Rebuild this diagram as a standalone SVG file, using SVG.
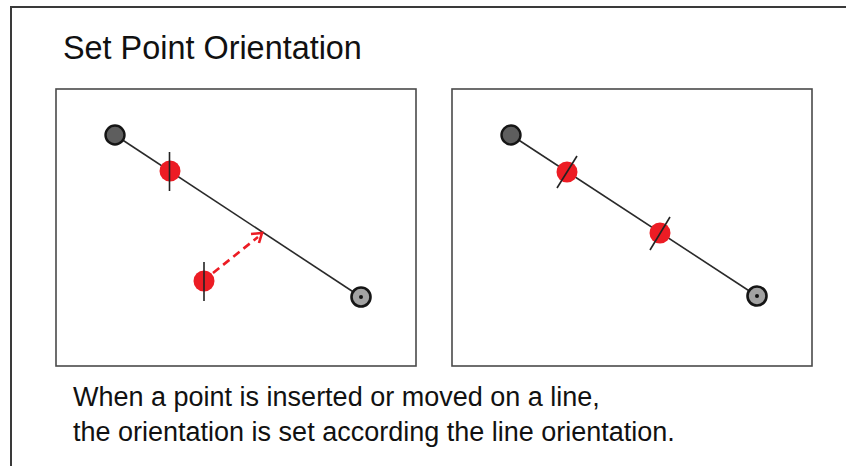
<svg xmlns="http://www.w3.org/2000/svg" width="846" height="466" viewBox="0 0 846 466">
<defs>
<style>
.frame{fill:none;stroke:#3a3a3a;stroke-width:2}
.box{fill:#fff;stroke:#4a4a4a;stroke-width:1.6}
.seg{stroke:#2a2a2a;stroke-width:1.6;fill:none}
.endA{fill:#5e5e5e;stroke:#151515;stroke-width:2.4}
.endB{fill:#a2a2a2;stroke:#151515;stroke-width:2.6}
.dot{fill:#111}
.red{fill:#ec1c24}
.tick{stroke:#222;stroke-width:1.6}
.txt{font-family:"Liberation Sans",Arial,sans-serif;fill:#111}
.arrow{stroke:#ec1c24;stroke-width:2.6;fill:none}
</style>
</defs>
<rect width="846" height="466" fill="#fff"/>
<path class="frame" d="M11,470 V7 H850"/>
<text class="txt" x="63" y="59" font-size="32.4">Set Point Orientation</text>

<g id="panel-left">
<rect class="box" x="56" y="89" width="360" height="277"/>
</g>
<g id="panel-right">
<rect class="box" x="452" y="89" width="360" height="277"/>
</g>

<g id="connectors">
<line class="seg" x1="115" y1="135" x2="361" y2="297"/>
<line class="seg" x1="511" y1="135" x2="757" y2="296"/>
<path class="arrow" d="M213,273 L258,237" stroke-dasharray="8,5"/>
<path class="arrow" d="M251,234 L262,233 L259,243"/>
</g>

<g id="left-start"><circle class="endA" cx="115" cy="135" r="9.5"/></g>
<g id="left-end"><circle class="endB" cx="361" cy="297" r="9.5"/><circle class="dot" cx="361" cy="297" r="2"/></g>
<g id="left-point-on-line"><circle class="red" cx="170" cy="171" r="10.5"/><line class="tick" x1="169.5" y1="152" x2="169.5" y2="191"/></g>
<g id="left-point-off-line"><circle class="red" cx="204" cy="281" r="10.5"/><line class="tick" x1="204" y1="262" x2="204" y2="301"/></g>

<g id="right-start"><circle class="endA" cx="511" cy="135" r="9.5"/></g>
<g id="right-end"><circle class="endB" cx="757" cy="296" r="9.5"/><circle class="dot" cx="757" cy="296" r="2"/></g>
<g id="right-point-1"><circle class="red" cx="567" cy="172" r="10.5"/><line class="tick" x1="557" y1="188" x2="577" y2="156"/></g>
<g id="right-point-2"><circle class="red" cx="660" cy="233" r="10.5"/><line class="tick" x1="650" y1="250" x2="670" y2="217"/></g>

<text class="txt" x="73" y="406" font-size="27">When a point is inserted or moved on a line,</text>
<text class="txt" x="73" y="441" font-size="27">the orientation is set according the line orientation.</text>
</svg>
